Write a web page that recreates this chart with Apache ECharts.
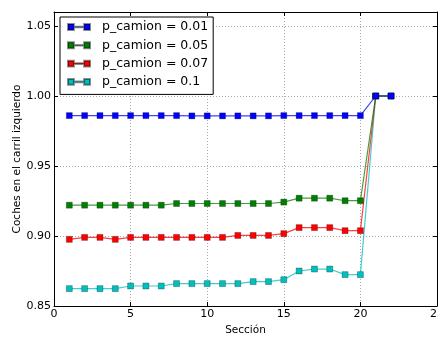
<!DOCTYPE html>
<html><head><meta charset="utf-8">
<script src="https://cdn.jsdelivr.net/npm/echarts@6/dist/echarts.min.js"></script>
<style>html,body{margin:0;padding:0;background:#fff}#c{width:438px;height:337px}</style>
</head><body><div id="c"></div>
<script>
var sections = [1,2,3,4,5,6,7,8,9,10,11,12,13,14,15,16,17,18,19,20,21,22];
var seriesNames = ['p_camion = 0.01','p_camion = 0.05','p_camion = 0.07','p_camion = 0.1'];
var p001 = [0.986,0.986,0.986,0.986,0.986,0.986,0.986,0.986,0.9858,0.9858,0.9858,0.9858,0.9858,0.9858,0.986,0.986,0.986,0.986,0.986,0.986,1.0,1.0];
var p005 = [0.922,0.922,0.922,0.922,0.922,0.922,0.922,0.9232,0.9232,0.9232,0.9232,0.9232,0.9232,0.9232,0.9242,0.927,0.927,0.927,0.9252,0.9252,1.0,1.0];
var p007 = [0.8976,0.899,0.899,0.8976,0.899,0.899,0.899,0.899,0.899,0.899,0.899,0.9004,0.9004,0.9004,0.9017,0.906,0.906,0.906,0.9038,0.9038,1.0,1.0];
var p010 = [0.8624,0.8624,0.8624,0.8624,0.8643,0.8643,0.8643,0.866,0.866,0.866,0.866,0.866,0.8674,0.8674,0.8688,0.875,0.8764,0.8764,0.8724,0.8724,1.0,1.0];
var xTicks = [0,5,10,15,20,25];
var yTicks = [0.85,0.90,0.95,1.00,1.05];
var colors = ['#0000ff','#008000','#ff0000','#00bfbf'];
var allData = [p001,p005,p007,p010];

var chart = echarts.init(document.getElementById('c'));
var legendIcon = 'path://M0,0h8v8h-8z M22,0h8v8h-8z M8,3.6h14v0.8h-14z';
var font = 'DejaVu Sans';
function mkSeries(i){
  return {
    name: seriesNames[i], type:'line',
    data: sections.map(function(s,k){return [s, allData[i][k]];}),
    symbol:'rect', symbolSize:6,
    itemStyle:{color:colors[i], borderColor:'rgba(0,0,0,0.45)', borderWidth:0.6},
    lineStyle:{color:colors[i], width:1.2, opacity:0.75},
    emphasis:{disabled:true}, animation:false, z:2+(3-i)
  };
}
var xAx = function(pos, show){return {
  type:'value', min:0, max:25, interval:5, position:pos,
  name: show ? 'Sección' : '', nameLocation:'middle', nameGap:19, nameMoveOverlap:false,
  nameTextStyle:{fontFamily:font, fontSize:10.5, color:'#000'},
  axisLine:{show:true, onZero:false, lineStyle:{color:'#000', width:1}},
  axisTick:{show:true, inside:true, length:4, lineStyle:{color:'#000'}},
  axisLabel:{show:show, fontFamily:font, fontSize:11, color:'#000', margin:3},
  splitLine:{show:show, lineStyle:{color:'#aaa', type:[1,2], width:1}}
};};
var yAx = function(pos, show){return {
  type:'value', min:0.85, max:1.06, interval:0.05, position:pos,
  name: show ? 'Coches en el carril izquierdo' : '', nameLocation:'middle', nameGap:31, nameMoveOverlap:false,
  nameTextStyle:{fontFamily:font, fontSize:10.5, color:'#000'},
  axisLine:{show:true, onZero:false, lineStyle:{color:'#000', width:1}},
  axisTick:{show:true, inside:true, length:4, lineStyle:{color:'#000'}},
  axisLabel:{show:show, fontFamily:font, fontSize:11, color:'#000', margin:3,
    formatter:function(v){return yTicks.some(function(t){return Math.abs(t-v)<1e-9;}) ? v.toFixed(2) : '';}},
  splitLine:{show:show, lineStyle:{color:'#aaa', type:[1,2], width:1}}
};};
chart.setOption({
  backgroundColor:'#fff',
  animation:false,
  grid:{left:54, right:1, top:12, bottom:31, containLabel:false, outerBoundsMode:'none'},
  xAxis:[xAx('bottom', true), xAx('top', false)],
  yAxis:[yAx('left', true), yAx('right', false)],
  legend:{
    orient:'vertical', left:60, top:17, itemWidth:22, itemHeight:6, itemGap:5.3,
    padding:[3.5,5,6,7], borderColor:'#000', borderWidth:1, backgroundColor:'#fff',
    icon: legendIcon,
    textStyle:{fontFamily:font, fontSize:12.5, lineHeight:13, color:'#000', padding:[0,0,0,7]},
    data: seriesNames
  },
  series:[0,1,2,3].map(mkSeries)
});
</script></body></html>
